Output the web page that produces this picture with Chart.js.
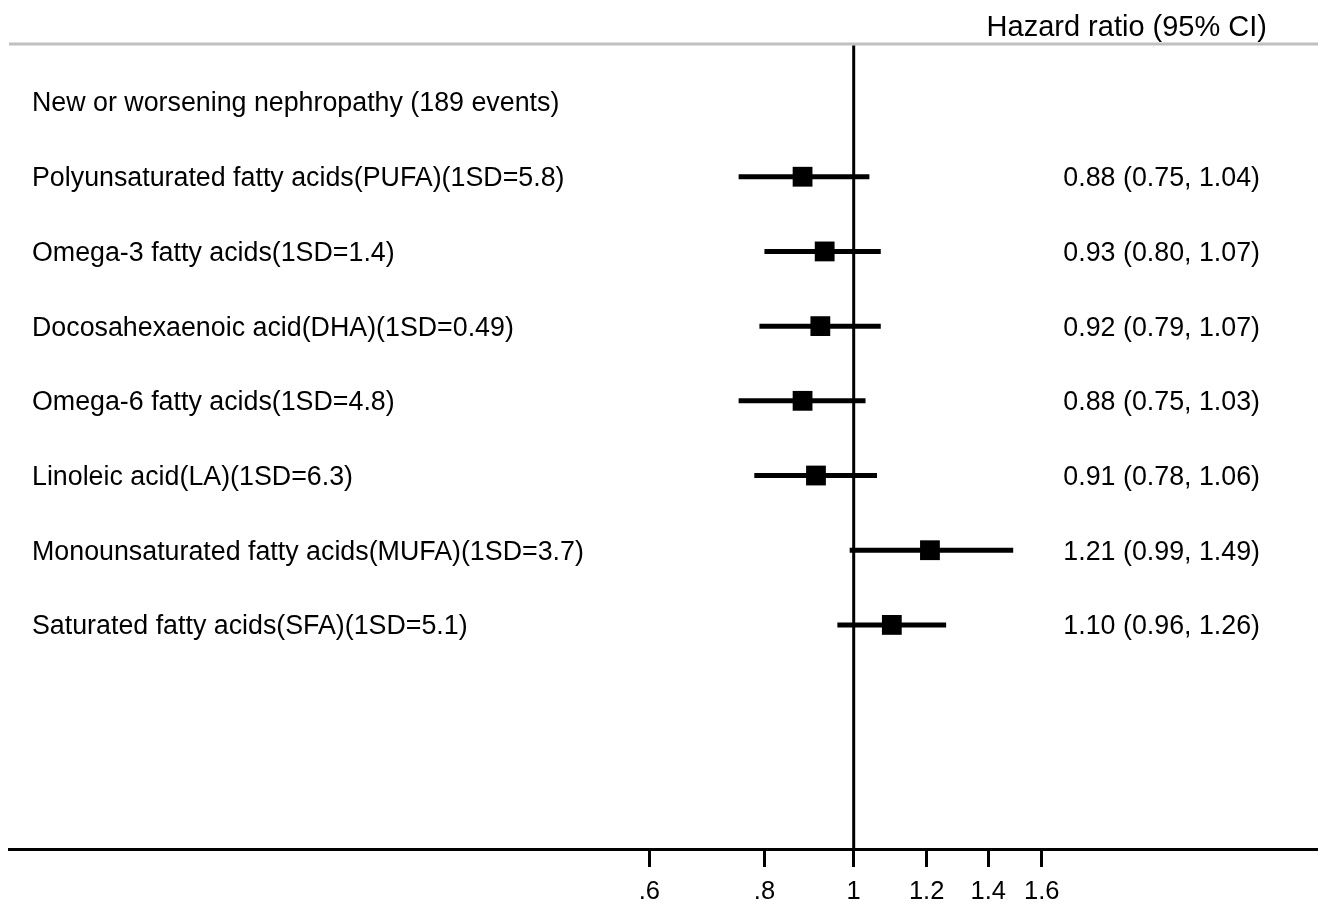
<!DOCTYPE html>
<html>
<head>
<meta charset="utf-8">
<script src="https://cdn.jsdelivr.net/npm/chart.js@4.4.1/dist/chart.umd.min.js"></script>
<style>
  body { margin: 0; background: #fff; }
</style>
</head>
<body>
<canvas id="forest" width="1318" height="904"></canvas>
<script>
const headerLabel = "New or worsening nephropathy (189 events)";
const rowLabels = [
  "Polyunsaturated fatty acids(PUFA)(1SD=5.8)",
  "Omega-3 fatty acids(1SD=1.4)",
  "Docosahexaenoic acid(DHA)(1SD=0.49)",
  "Omega-6 fatty acids(1SD=4.8)",
  "Linoleic acid(LA)(1SD=6.3)",
  "Monounsaturated fatty acids(MUFA)(1SD=3.7)",
  "Saturated fatty acids(SFA)(1SD=5.1)"
];
const hr = [0.88, 0.93, 0.92, 0.88, 0.91, 1.21, 1.10];
const ciLow = [0.75, 0.80, 0.79, 0.75, 0.78, 0.99, 0.96];
const ciHigh = [1.04, 1.07, 1.07, 1.03, 1.06, 1.49, 1.26];
const tickVals = [0.6, 0.8, 1, 1.2, 1.4, 1.6];
const tickLabels = [".6", ".8", "1", "1.2", "1.4", "1.6"];

const FONT = "'Liberation Sans', Arial, Helvetica, sans-serif";

// row 0 is the header, data rows start at 1
const rowPos = rowLabels.map((_, i) => i + 1);

const ciSets = rowLabels.map((_, i) => ({
  type: "scatter",
  showLine: true,
  data: [{ x: ciLow[i], y: rowPos[i] }, { x: ciHigh[i], y: rowPos[i] }],
  borderColor: "#000",
  borderWidth: 5,
  borderCapStyle: "butt",
  pointRadius: 0,
  order: 2
}));

const pointSet = {
  type: "scatter",
  data: hr.map((v, i) => ({ x: v, y: rowPos[i] })),
  pointStyle: "rect",
  pointRadius: 14,
  backgroundColor: "#000",
  borderWidth: 0,
  order: 1
};

const forestExtras = {
  id: "forestExtras",
  beforeDatasetsDraw(chart) {
    const { ctx, chartArea, scales: { x } } = chart;
    ctx.save();
    ctx.lineWidth = 3;
    ctx.strokeStyle = "#c0c0c0";
    ctx.beginPath();
    ctx.moveTo(chartArea.left, chartArea.top);
    ctx.lineTo(chartArea.right, chartArea.top);
    ctx.stroke();
    const x1 = x.getPixelForValue(1);
    ctx.strokeStyle = "#000";
    ctx.beginPath();
    ctx.moveTo(x1, chartArea.top + 1.5);
    ctx.lineTo(x1, chartArea.bottom);
    ctx.stroke();
    ctx.restore();
  },
  afterDraw(chart) {
    const { ctx, scales: { y } } = chart;
    ctx.save();
    ctx.fillStyle = "#000";
    ctx.textBaseline = "middle";
    ctx.font = "29px " + FONT;
    ctx.textAlign = "right";
    ctx.fillText("Hazard ratio (95% CI)", 1267, 28);

    ctx.font = "26.8px " + FONT;
    ctx.textAlign = "left";
    ctx.fillText(headerLabel, 32, y.getPixelForValue(0) + 2);
    rowLabels.forEach((lab, i) => {
      const py = y.getPixelForValue(rowPos[i]) + 2;
      ctx.textAlign = "left";
      ctx.fillText(lab, 32, py);
      ctx.textAlign = "right";
      const txt = hr[i].toFixed(2) + " (" + ciLow[i].toFixed(2) + ", " + ciHigh[i].toFixed(2) + ")";
      ctx.fillText(txt, 1260, py);
    });
    ctx.restore();
  }
};

new Chart(document.getElementById("forest"), {
  type: "scatter",
  data: { datasets: [...ciSets, pointSet] },
  options: {
    responsive: false,
    animation: false,
    devicePixelRatio: 1,
    layout: { autoPadding: false, padding: { left: 9, top: 44, right: 0, bottom: 0 } },
    plugins: { legend: { display: false }, tooltip: { enabled: false } },
    scales: {
      x: {
        type: "logarithmic",
        min: 0.12103,
        max: 3.1923,
        afterBuildTicks(scale) {
          scale.ticks = tickVals.map(v => ({ value: v }));
        },
        afterFit(scale) { scale.height = 55; },
        border: { display: true, color: "#000", width: 3 },
        grid: {
          drawOnChartArea: false,
          drawTicks: true,
          tickLength: 18,
          tickWidth: 3,
          tickColor: "#000",
          lineWidth: 3,
          color: "#000"
        },
        ticks: {
          autoSkip: false,
          maxRotation: 0,
          padding: 10,
          color: "#000",
          font: { family: FONT, size: 25.5 },
          callback: (v) => {
            const k = tickVals.indexOf(v);
            return k >= 0 ? tickLabels[k] : "";
          }
        }
      },
      y: {
        type: "linear",
        display: false,
        reverse: true,
        min: -0.777,
        max: 10
      }
    }
  },
  plugins: [forestExtras]
});
</script>
</body>
</html>
